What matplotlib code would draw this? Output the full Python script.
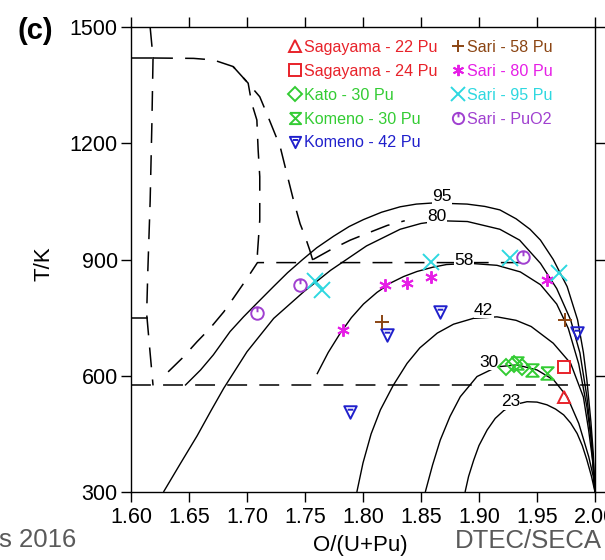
import matplotlib
matplotlib.use('Agg')
import matplotlib.pyplot as plt
from matplotlib.path import Path

plt.rcParams['font.family'] = ['Liberation Sans', 'DejaVu Sans']

# ---------------- data ----------------
x_ticks = [1.60, 1.65, 1.70, 1.75, 1.80, 1.85, 1.90, 1.95, 2.00]
y_ticks = [300, 600, 900, 1200, 1500]

# solid iso-Pu miscibility-gap curves
x95 = [1.6466, 1.660, 1.671, 1.6854, 1.697, 1.7085, 1.7228, 1.735, 1.748, 1.760, 1.7746, 1.788, 1.8004,
       1.816, 1.832, 1.846, 1.861, 1.8897, 1.905, 1.918, 1.932, 1.944, 1.953, 1.964, 1.976, 1.985,
       1.990, 1.993, 1.9965, 1.9985, 2.000]
t95 = [575, 615, 654, 714, 752, 787, 830, 866, 900, 930, 960, 985, 1003,
       1022, 1036, 1043, 1046, 1043, 1037, 1028, 1005, 978, 950, 900, 830, 744,
       660, 589, 480, 400, 300]

x80 = [1.628, 1.6425, 1.657, 1.669, 1.680, 1.700, 1.723, 1.749, 1.772, 1.803, 1.832, 1.850, 1.867,
       1.890, 1.918, 1.935, 1.953, 1.967, 1.979, 1.987, 1.993, 1.9965, 1.9985, 2.000]
t80 = [300, 373, 445, 510, 568, 662, 748, 817, 872, 935, 978, 993, 1000,
       998, 978, 950, 890, 825, 744, 659, 546, 450, 380, 300]

x58 = [1.7603, 1.770, 1.780, 1.790, 1.8004, 1.812, 1.8235, 1.835, 1.8465, 1.860, 1.872, 1.8925,
       1.9155, 1.9356, 1.953, 1.967, 1.977, 1.986, 1.993, 1.9965, 2.000]
t58 = [604, 660, 708, 750, 785, 815, 839, 856, 869, 880, 887, 890,
       885, 868, 835, 785, 722, 630, 520, 440, 300]

x42 = [1.7947, 1.800, 1.807, 1.815, 1.826, 1.838, 1.849, 1.864, 1.878, 1.895, 1.9155, 1.932,
       1.945, 1.964, 1.979, 1.990, 1.9945, 1.998, 2.000]
t42 = [300, 375, 450, 512, 575, 632, 672, 710, 733, 748, 752, 743,
       727, 684, 632, 545, 460, 380, 300]

x30 = [1.8537, 1.860, 1.8666, 1.875, 1.8839, 1.8983, 1.9155, 1.9328, 1.950, 1.9644, 1.976,
       1.986, 1.9946, 1.9985, 2.000]
t30 = [300, 370, 434, 495, 546, 598, 623, 628, 615, 589, 546,
       477, 391, 340, 300]

x23 = [1.888, 1.891, 1.8954, 1.900, 1.907, 1.914, 1.9213, 1.930, 1.9414, 1.950, 1.9586, 1.966,
       1.973, 1.979, 1.9846, 1.989, 1.993, 1.997, 2.000]
t23 = [300, 340, 382, 420, 460, 490, 510, 525, 533, 532, 525, 514,
       499, 478, 451, 420, 383, 340, 300]

curve_names = ['95', '80', '58', '42', '30', '23']

# dashed phase boundaries
x_left = [1.6165, 1.619, 1.618, 1.6165, 1.6145, 1.6135, 1.6165, 1.619]
t_left = [1500, 1420, 1250, 1050, 870, 760, 658, 575]

x_top = [1.619, 1.654, 1.671, 1.688, 1.701, 1.704, 1.7085, 1.7096, 1.711, 1.711, 1.711, 1.710, 1.709, 1.709]
t_top = [1420, 1419, 1415, 1398, 1355, 1304, 1260, 1183, 1114, 1071, 1002, 959, 916, 892]

x_branch = [1.688, 1.701, 1.711, 1.717, 1.7286, 1.7343, 1.740, 1.7458, 1.750, 1.754, 1.757]
t_branch = [1398, 1355, 1320, 1277, 1191, 1122, 1054, 992, 960, 925, 895]

x_diag = [1.632, 1.644, 1.657, 1.668, 1.680, 1.688, 1.700, 1.709, 1.940]
t_diag = [610, 645, 688, 722, 765, 799, 851, 892, 892]

x_arc = [1.757, 1.772, 1.789, 1.804, 1.821, 1.836]
t_arc = [900, 925, 950, 968, 988, 1000]

x_low = [1.600, 1.996]
t_low = [575, 575]

x_stub1420 = [1.600, 1.619]
t_stub1420 = [1420, 1420]
x_stub748 = [1.600, 1.6135]
t_stub748 = [748, 748]

# experimental points
sag22_x = [1.973]
sag22_t = [546]
sag24_x = [1.973]
sag24_t = [622]
kato30_x = [1.923, 1.930, 1.937]
kato30_t = [623, 630, 623]
kom30_x = [1.933, 1.946, 1.959]
kom30_t = [632, 615, 606]
kom42_x = [1.789, 1.8206, 1.8666, 1.9846]
kom42_t = [507, 705, 765, 710]
sari58_x = [1.8163, 1.9745]
sari58_t = [739, 744]
sari80_x = [1.783, 1.819, 1.838, 1.859, 1.9586]
sari80_t = [718, 834, 839, 854, 847]
sari95_x = [1.759, 1.765, 1.859, 1.927, 1.969]
sari95_t = [845, 822, 894, 903, 864]
sarip_x = [1.7085, 1.746, 1.938]
sarip_t = [761, 834, 906]

series_labels = ['Sagayama - 22 Pu', 'Sagayama - 24 Pu', 'Kato - 30 Pu', 'Komeno - 30 Pu',
                 'Komeno - 42 Pu', 'Sari - 58 Pu', 'Sari - 80 Pu', 'Sari - 95 Pu', 'Sari - PuO2']

# ---------------- marker shapes ----------------
hourglass = [(-1, 1), (1, 1), (-1, -1), (1, -1), (-1, 1)]
tri_bar = Path([(-1, 1), (1, 1), (0, -1), (-1, 1), (-0.45, 0.45), (0.45, 0.45)],
               [Path.MOVETO, Path.LINETO, Path.LINETO, Path.CLOSEPOLY, Path.MOVETO, Path.LINETO])
circ = Path.unit_circle()
power = Path.make_compound_path(circ, Path([(0, 0.2), (0, 1.0)], [Path.MOVETO, Path.LINETO]))

# ---------------- figure ----------------
fig = plt.figure(figsize=(6.05, 5.6), dpi=100)
ax = fig.add_axes([131 / 605, 68 / 560, 464 / 605, 465 / 560])

solid_kw = dict(color='black', lw=1.0, solid_capstyle='butt')
dash_kw = dict(color='black', lw=1.1, linestyle=(0, (13, 8)))

curves = [(x95, t95), (x80, t80), (x58, t58), (x42, t42), (x30, t30), (x23, t23)]
for cx, ct in curves:
    ax.plot(cx, ct, **solid_kw)

ax.plot(x_left, t_left, **dash_kw)
ax.plot(x_top, t_top, **dash_kw)
ax.plot(x_branch, t_branch, **dash_kw)
ax.plot(x_diag, t_diag, **dash_kw)
ax.plot(x_arc, t_arc, **dash_kw)
ax.plot(x_low, t_low, **dash_kw)
ax.plot(x_stub1420, t_stub1420, color='black', lw=1.1)
ax.plot(x_stub748, t_stub748, color='black', lw=1.1)

# curve labels
label_pos = [(1.868, 1062), (1.864, 1010), (1.887, 897), (1.904, 768), (1.909, 634), (1.927, 533)]
for name, (lx, lt) in zip(curve_names, label_pos):
    ax.text(lx, lt, name, fontsize=12.5, ha='center', va='center', color='black',
            bbox=dict(facecolor='white', edgecolor='none', pad=0.3), zorder=3)

red = '#e8222a'
green = '#33cc33'
blue = '#2020cc'
brown = '#8b4513'
magenta = '#e61ee6'
cyan = '#2ed8e0'
purple = '#a040d0'

series = [
    (sag22_x, sag22_t, '^', red, 9, True),
    (sag24_x, sag24_t, 's', red, 9, True),
    (kato30_x, kato30_t, 'D', green, 8, True),
    (kom30_x, kom30_t, hourglass, green, 9, True),
    (kom42_x, kom42_t, tri_bar, blue, 9, True),
    (sari58_x, sari58_t, '+', brown, 10, False),
    (sari80_x, sari80_t, (6, 2, 0), magenta, 9, False),
    (sari95_x, sari95_t, 'x', cyan, 11, False),
    (sarip_x, sarip_t, power, purple, 9, True),
]
colors = []
for (sx, st, mk, col, ms, hollow), lab in zip(series, series_labels):
    ax.plot(sx, st, linestyle='none', marker=mk, markersize=ms,
            markerfacecolor='none' if hollow else col, markeredgecolor=col,
            markeredgewidth=1.4, color=col, label=lab, zorder=4)
    colors.append(col)

leg = ax.legend(loc='upper left', bbox_to_anchor=(0.341, 0.972), ncol=2, frameon=False,
                fontsize=11.6, labelcolor=colors, handlelength=0.7, handletextpad=0.2,
                labelspacing=0.55, columnspacing=0.95, borderpad=0, borderaxespad=0,
                numpoints=1, markerscale=0.9)

ax.set_xlim(1.6, 2.0)
ax.set_ylim(300, 1500)
ax.set_xticks(x_ticks)
ax.set_xticklabels([f'{v:.2f}' for v in x_ticks])
ax.set_yticks(y_ticks)
ax.set_yticklabels([str(v) for v in y_ticks])
ax.tick_params(direction='out', length=7, width=1.0, labelsize=15.5, top=True, right=True,
               labeltop=False, labelright=False, colors='black')
ax.tick_params(axis='x', pad=3.5)
ax.tick_params(axis='y', pad=2.5)
for sp in ax.spines.values():
    sp.set_linewidth(1.0)

fig.text(360 / 605, 1 - 546 / 560, 'O/(U+Pu)', fontsize=16, ha='center', va='center')
fig.text(44 / 605, 1 - 264 / 560, 'T/K', fontsize=16, rotation=90, ha='center', va='center')
fig.text(35 / 605, 1 - 31 / 560, '(c)', fontsize=21, fontweight='bold', ha='center', va='center')
fig.text(-0.002, 1 - 547 / 560, 's 2016', fontsize=18.5, color='#5a5a5a', ha='left', va='baseline')
fig.text(455 / 605, 1 - 548 / 560, 'DTEC/SECA', fontsize=18.5, color='#5a5a5a', ha='left', va='baseline')

fig.savefig('out.png', dpi=100)
